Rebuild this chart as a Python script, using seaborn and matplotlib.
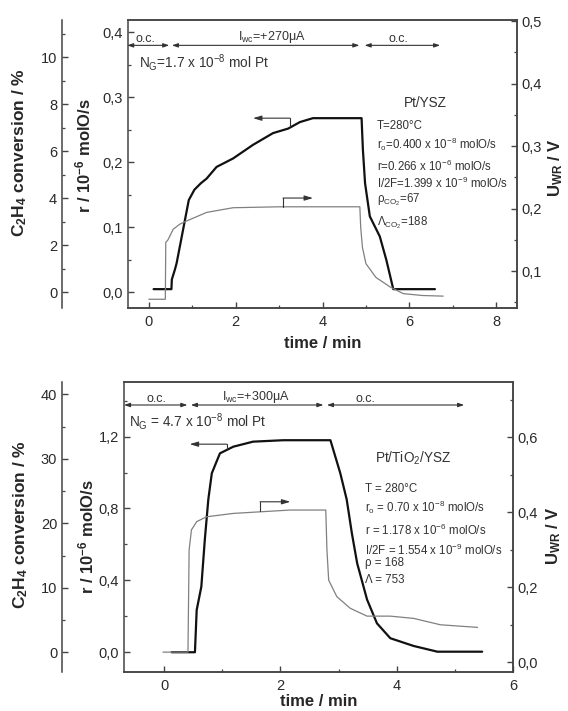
import matplotlib
matplotlib.use("Agg")
import matplotlib.pyplot as plt
import seaborn as sns
from matplotlib.ticker import FixedLocator, MultipleLocator, FuncFormatter

sns.set_style("ticks")
plt.rcParams['font.family'] = ['Liberation Sans', 'DejaVu Sans']
plt.rcParams['mathtext.fontset'] = 'custom'
plt.rcParams['mathtext.rm'] = 'Liberation Sans'
plt.rcParams['mathtext.it'] = 'Liberation Sans:italic'
plt.rcParams['mathtext.bf'] = 'Liberation Sans:bold'

# ---------------- data: top panel (Pt/YSZ) ----------------
top_t_r = [0.11, 0.52, 0.53, 0.60, 0.64, 0.75, 0.92, 1.05, 1.20, 1.33, 1.56, 1.94, 2.40, 2.86, 3.21, 3.48, 3.78, 4.90, 4.93, 4.98, 5.09, 5.32, 5.47, 5.63, 6.59]
top_r   = [0.005, 0.005, 0.02, 0.035, 0.045, 0.083, 0.142, 0.158, 0.168, 0.175, 0.193, 0.206, 0.227, 0.245, 0.252, 0.262, 0.268, 0.268, 0.22, 0.168, 0.117, 0.086, 0.05, 0.005, 0.005]
top_t_u = [0.0, 0.38, 0.39, 0.44, 0.56, 0.71, 0.86, 1.33, 1.94, 3.0, 4.86, 4.88, 4.92, 5.0, 5.23, 5.55, 5.86, 6.3, 6.78]
top_u   = [0.055, 0.055, 0.146, 0.150, 0.167, 0.175, 0.180, 0.194, 0.2015, 0.203, 0.203, 0.17, 0.138, 0.112, 0.09, 0.075, 0.064, 0.061, 0.06]

# ---------------- data: bottom panel (Pt/TiO2/YSZ) ----------------
bot_t_r = [0.13, 0.53, 0.56, 0.64, 0.70, 0.76, 0.82, 0.96, 1.19, 1.53, 2.05, 2.86, 2.91, 3.03, 3.14, 3.23, 3.32, 3.49, 3.66, 3.89, 4.29, 4.70, 5.47]
bot_r   = [0.0, 0.0, 0.235, 0.365, 0.627, 0.85, 0.996, 1.107, 1.144, 1.172, 1.18, 1.18, 1.126, 0.996, 0.85, 0.66, 0.495, 0.293, 0.161, 0.078, 0.035, 0.003, 0.003]
bot_t_u = [-0.02, 0.41, 0.43, 0.47, 0.56, 0.73, 1.19, 2.17, 2.78, 2.80, 2.83, 2.97, 3.2, 3.49, 3.89, 4.29, 4.75, 5.39]
bot_u   = [0.027, 0.027, 0.30, 0.353, 0.375, 0.388, 0.397, 0.406, 0.406, 0.30, 0.219, 0.175, 0.144, 0.123, 0.123, 0.117, 0.10, 0.093]

top_phases = [(-0.5, 0.47), (0.53, 4.85), (4.97, 6.71)]
bot_phases = [(-0.69, 0.40), (0.46, 2.74), (2.80, 5.16)]

DARK = '#333333'
GRAY = '#808080'

fig = plt.figure(figsize=(5.68, 7.11), dpi=100)


def comma(dec):
    return FuncFormatter(lambda v, p: (f"{v:.{dec}f}").replace('.', ','))


def make_panel(rect, xlim, rlim, ulim, clim, xt, xminor, rt, rminor, ut, uminor, ct, cminor,
               t_r, r, t_u, u, phases, phase_y, labels, lab_x, texts, tblock, arrows, lp):
    ax = fig.add_axes(rect)
    axu = ax.twinx()
    axc = ax.twinx()

    sns.lineplot(x=t_r, y=r, ax=ax, color='#111111', lw=1.6, estimator=None, sort=False)
    sns.lineplot(x=t_u, y=u, ax=axu, color=GRAY, lw=0.9, estimator=None, sort=False)

    ax.set_xlim(*xlim)
    ax.set_ylim(*rlim)
    axu.set_ylim(*ulim)
    axc.set_ylim(*clim)

    for a in (ax, axu, axc):
        for s in a.spines.values():
            s.set_color('#444444')
            s.set_linewidth(1.1)
    axc.spines['left'].set_position(('axes', lp['cspine']))
    axc.spines['left'].set_visible(True)
    for s in ('right', 'top', 'bottom'):
        axc.spines[s].set_visible(False)
    axc.yaxis.set_ticks_position('left')
    axc.yaxis.set_label_position('left')
    axu.spines['left'].set_visible(False)

    ax.xaxis.set_major_locator(FixedLocator(xt))
    ax.xaxis.set_minor_locator(MultipleLocator(xminor))
    ax.xaxis.set_major_formatter(comma(0))
    ax.yaxis.set_major_locator(FixedLocator(rt))
    ax.yaxis.set_minor_locator(MultipleLocator(rminor))
    ax.yaxis.set_major_formatter(comma(1))
    axu.yaxis.set_major_locator(FixedLocator(ut))
    axu.yaxis.set_minor_locator(MultipleLocator(uminor))
    axu.yaxis.set_major_formatter(comma(1))
    axc.yaxis.set_major_locator(FixedLocator(ct))
    axc.yaxis.set_minor_locator(MultipleLocator(cminor))
    axc.yaxis.set_major_formatter(comma(0))

    for a in (ax, axu, axc):
        a.tick_params(which='major', direction='in', length=4, width=1.0, color='#444444',
                      labelsize=10.5, labelcolor='#2a2a2a')
        a.tick_params(which='minor', direction='in', length=2.5, width=0.9, color='#444444')
    ax.tick_params(axis='x', pad=5)

    ax.set_xlabel('time / min', fontsize=12, fontweight='bold')
    ax.xaxis.set_label_coords(0.5, lp['xlab'])
    ax.set_ylabel(r'r / 10$^\mathbf{-6}$ molO/s', fontsize=12, fontweight='bold')
    ax.yaxis.set_label_coords(lp['rlab'][0], lp['rlab'][1])
    axu.set_ylabel(r'U$_\mathbf{WR}$ / V', fontsize=12, fontweight='bold')
    axu.yaxis.set_label_coords(lp['ulab'][0], lp['ulab'][1])
    axc.set_ylabel(r'C$_\mathbf{2}$H$_\mathbf{4}$ conversion / %', fontsize=12.5, fontweight='bold')
    axc.yaxis.set_label_coords(lp['clab'][0], lp['clab'][1])

    for (a0, a1) in phases:
        ax.annotate('', xy=(a1, phase_y), xytext=(a0, phase_y),
                    arrowprops=dict(arrowstyle='<|-|>,head_length=0.35,head_width=0.12',
                                    lw=0.8, color=DARK, shrinkA=0, shrinkB=0))
    bars = [p[1] for p in phases[:-1]] + [p[0] for p in phases[1:]]
    for b in bars:
        ax.annotate('', xy=(b, phase_y), xytext=(b, phase_y),
                    arrowprops=dict(arrowstyle='|-|,widthA=0.18,widthB=0.18', lw=0.8, color=DARK,
                                    shrinkA=0, shrinkB=0))
    for (txt, xx) in zip(labels, lab_x):
        ax.text(xx, phase_y, txt, ha='center', va='bottom', fontsize=9, color=DARK)

    for (txt, xx, yy, ha, fs) in texts:
        ax.text(xx, yy, txt, ha=ha, va='center', fontsize=fs, color=DARK)
    for (txt, xx, yy) in tblock:
        ax.text(xx, yy, txt, ha='left', va='center', fontsize=8.3, color=DARK)

    (la, ra) = arrows
    x0, x1, y0, y1 = la
    ax.plot([x0, x0], [y1, y0], color=DARK, lw=0.8)
    ax.annotate('', xy=(x1, y0), xytext=(x0, y0),
                arrowprops=dict(arrowstyle='-|>,head_length=0.5,head_width=0.15', lw=0.8,
                                color=DARK, shrinkA=0, shrinkB=0))
    x0, x1, y0, y1 = ra
    axu.plot([x0, x0], [y1, y0], color=DARK, lw=0.8)
    axu.annotate('', xy=(x1, y0), xytext=(x0, y0),
                 arrowprops=dict(arrowstyle='-|>,head_length=0.5,head_width=0.15', lw=0.8,
                                 color=DARK, shrinkA=0, shrinkB=0))
    return ax


make_panel([128/568, 1-308/711, 389/568, 288/711],
           (-0.48, 8.48), (-0.024, 0.419), (0.041, 0.502), (-0.67, 11.59),
           [0, 2, 4, 6, 8], 1, [0.0, 0.1, 0.2, 0.3, 0.4], 0.05,
           [0.1, 0.2, 0.3, 0.4, 0.5], 0.05, [0, 2, 4, 6, 8, 10], 1,
           top_t_r, top_r, top_t_u, top_u, top_phases, 0.38,
           ['o.c.', r'I$_{\rm wc}$=+270μA', 'o.c.'], [-0.07, 2.84, 5.74],
           [(r'N$_{\rm G}$=1.7 x 10$^{-8}$ mol Pt', -0.22, 0.354, 'left', 9.8),
            ('Pt/YSZ', 6.36, 0.291, 'center', 9.8)],
           [('T=280°C', 5.25, 0.256),
            (r'r$_{\rm o}$=0.400 x 10$^{-8}$ molO/s', 5.25, 0.228),
            (r'r=0.266 x 10$^{-6}$ molO/s', 5.25, 0.194),
            (r'I/2F=1.399 x 10$^{-9}$ molO/s', 5.25, 0.168),
            (r'ρ$_{\rm CO_2}$=67', 5.25, 0.142),
            (r'Λ$_{\rm CO_2}$=188', 5.25, 0.107)],
           ((3.25, 2.40, 0.268, 0.256), (3.09, 3.78, 0.217, 0.203)),
           dict(cspine=-0.1697, xlab=-0.097, rlab=(-0.09, 0.53), ulab=(1.075, 0.486),
                clab=(-0.255, 0.538)))

make_panel([124/568, 1-672/711, 389/568, 290/711],
           (-0.69, 6.0), (-0.11, 1.504), (-0.026, 0.7475), (-3.05, 41.9),
           [0, 2, 4, 6], 1, [0.0, 0.4, 0.8, 1.2], 0.2,
           [0.0, 0.2, 0.4, 0.6], 0.1, [0, 10, 20, 30, 40], 5,
           bot_t_r, bot_r, bot_t_u, bot_u, bot_phases, 1.376,
           ['o.c.', r'I$_{\rm wc}$=+300μA', 'o.c.'], [-0.13, 1.58, 3.46],
           [(r'N$_{\rm G}$ = 4.7 x 10$^{-8}$ mol Pt', -0.6, 1.283, 'left', 9.8),
            (r'Pt/TiO$_2$/YSZ', 4.29, 1.08, 'center', 9.8)],
           [('T = 280°C', 3.46, 0.909),
            (r'r$_{\rm o}$ = 0.70 x 10$^{-8}$ molO/s', 3.46, 0.805),
            (r'r = 1.178 x 10$^{-6}$ molO/s', 3.46, 0.677),
            (r'I/2F = 1.554 x 10$^{-9}$ molO/s', 3.46, 0.569),
            ('ρ = 168', 3.46, 0.495),
            ('Λ = 753', 3.46, 0.403)],
           ((1.08, 0.44, 1.158, 1.126), (1.65, 2.17, 0.428, 0.404)),
           dict(cspine=-0.159, xlab=-0.077, rlab=(-0.072, 0.466), ulab=(1.08, 0.47),
                clab=(-0.242, 0.507)))

fig.savefig('out.png', dpi=100)
